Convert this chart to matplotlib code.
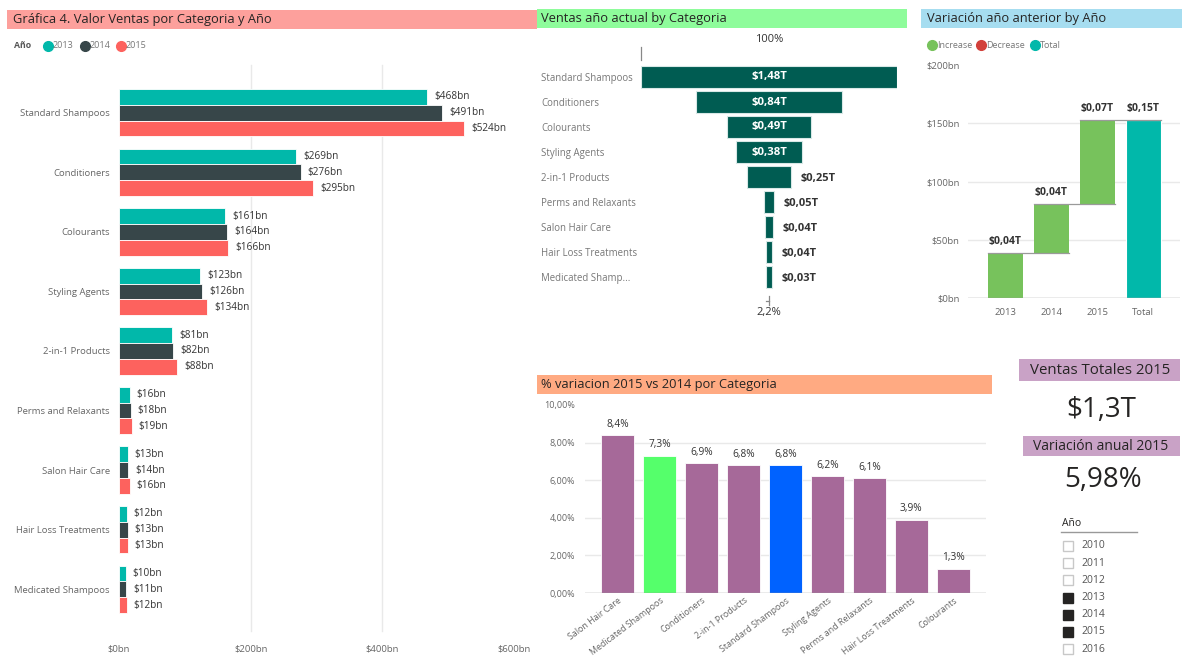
import matplotlib
matplotlib.use('Agg')
import matplotlib.pyplot as plt
from matplotlib.patches import Rectangle
from matplotlib.lines import Line2D
import numpy as np

W, H = 1182, 658
plt.rcParams['font.family'] = ['Open Sans', 'DejaVu Sans']

# ---------------- data ----------------
categories = ['Standard Shampoos', 'Conditioners', 'Colourants', 'Styling Agents',
              '2-in-1 Products', 'Perms and Relaxants', 'Salon Hair Care',
              'Hair Loss Treatments', 'Medicated Shampoos']
years = ['2013', '2014', '2015']
sales_2013 = [468, 269, 161, 123, 81, 16, 13, 12, 10]
sales_2014 = [491, 276, 164, 126, 82, 18, 14, 13, 11]
sales_2015 = [524, 295, 166, 134, 88, 19, 16, 13, 12]
year_colors = ['#01B8AA', '#374649', '#FD625E']

funnel_labels = ['Standard Shampoos', 'Conditioners', 'Colourants', 'Styling Agents',
                 '2-in-1 Products', 'Perms and Relaxants', 'Salon Hair Care',
                 'Hair Loss Treatments', 'Medicated Shamp...']

wf_labels = ['2013', '2014', '2015', 'Total']
wf_changes = [39, 42, 72]
wf_ticks = [0, 50, 100, 150, 200]

pct_categories = ['Salon Hair Care', 'Medicated Shampoos', 'Conditioners', '2-in-1 Products',
                  'Standard Shampoos', 'Styling Agents', 'Perms and Relaxants',
                  'Hair Loss Treatments', 'Colourants']
pct_values = [8.4, 7.3, 6.9, 6.8, 6.8, 6.2, 6.1, 3.9, 1.3]
pct_ticks = [0, 2, 4, 6, 8, 10]

kpi_total_2015 = '$1,3T'
kpi_variation_2015 = 5.98

slicer_years = ['2010', '2011', '2012', '2013', '2014', '2015', '2016']
slicer_selected = ['2013', '2014', '2015']

# ---------------- helpers ----------------
fig = plt.figure(figsize=(W / 100, H / 100), dpi=100)
fig.patch.set_facecolor('white')


def fx(x):
    return x / W


def fy(y):
    return 1 - y / H


def axes_px(x0, y0, x1, y1):
    return fig.add_axes([x0 / W, 1 - y1 / H, (x1 - x0) / W, (y1 - y0) / H])


def title_bar(x0, y0, x1, y1, color, text, tx, size=9.3, ha='left'):
    fig.add_artist(Rectangle((fx(x0), fy(y1)), (x1 - x0) / W, (y1 - y0) / H,
                             transform=fig.transFigure, facecolor=color,
                             edgecolor='none', zorder=0))
    fig.text(fx(tx), fy((y0 + y1) / 2), text, ha=ha, va='center',
             fontsize=size, color='#252423')


def legend_dot(x, y, color, label, size=6.5):
    fig.add_artist(Line2D([fx(x)], [fy(y)], marker='o', markersize=7,
                          color=color, transform=fig.transFigure, linestyle='none'))
    fig.text(fx(x + 5), fy(y), label, ha='left', va='center', fontsize=size,
             color='#777777')


def clean(ax):
    for s in ax.spines.values():
        s.set_visible(False)
    ax.set_facecolor('none')


GRID = '#E9E9E9'
LBL = '#666666'
VAL = '#333333'

# ---------------- Panel 1: clustered bar ----------------
title_bar(7, 10, 537, 29, '#FDA09C', 'Gráfica 4. Valor Ventas por Categoria y Año', 13)
fig.text(fx(14), fy(46), 'Año', ha='left', va='center', fontsize=6.3,
         color='#555555', fontweight='bold')
for xx, yr, col in zip([48, 85, 121], years, year_colors):
    legend_dot(xx, 46, col, yr)

ax1 = axes_px(119, 83, 514, 619)
clean(ax1)
n = len(categories)
ypos = np.arange(n)
bh = 0.265
series = [sales_2013, sales_2014, sales_2015]
for k, (vals, col) in enumerate(zip(series, year_colors)):
    off = (k - 1) * bh
    ax1.barh(ypos + off, vals, height=bh, color=col, edgecolor='white', linewidth=0.6, zorder=3)
    for yy, v in zip(ypos + off, vals):
        ax1.annotate(f'${v}bn', (v, yy), xytext=(5, 0), textcoords='offset points',
                     ha='left', va='center', fontsize=7.2, color=VAL)
ax1.set_xlim(0, 600)
ax1.set_ylim(n - 0.5, -0.5)
ax1.set_yticks(ypos)
ax1.set_yticklabels(categories, fontsize=6.8, color=LBL)
ax1.set_xticks([0, 200, 400, 600])
ax1.set_xticklabels(['$0bn', '$200bn', '$400bn', '$600bn'], fontsize=6.8, color=LBL)
ax1.tick_params(axis='y', length=0, pad=6.5)
ax1.tick_params(axis='x', length=0, pad=18)
for gx in [200, 400]:
    ax1.plot([gx, gx], [n - 0.5 + 0.2, -0.5 - 0.3], color=GRID, lw=1, zorder=1, clip_on=False)

# ---------------- Panel 2: funnel ----------------
title_bar(537, 9, 907, 28, '#8EFC9B', 'Ventas año actual by Categoria', 541)
funnel_vals = [a + b + c for a, b, c in zip(sales_2013, sales_2014, sales_2015)]
fmax = max(funnel_vals)
ax2 = axes_px(641, 64.5, 897, 289.5)
clean(ax2)
fp = np.arange(len(funnel_vals))
ax2.barh(fp, funnel_vals, left=[-v / 2 for v in funnel_vals], height=0.88,
         color='#005C52', edgecolor='#D8E8E6', linewidth=0.8, zorder=3)
for yy, v in zip(fp, funnel_vals):
    lab = f'${v / 1000:.2f}T'.replace('.', ',')
    if v > 0.2 * fmax:
        ax2.text(0, yy, lab, ha='center', va='center', fontsize=8.2, color='white',
                 fontweight='bold')
    else:
        ax2.annotate(lab, (v / 2, yy), xytext=(7, -1), textcoords='offset points',
                     ha='left', va='center', fontsize=8.0, color=VAL, fontweight='bold')
ax2.set_xlim(-fmax / 2, fmax / 2)
ax2.set_ylim(len(fp) - 0.5, -0.5)
ax2.set_yticks(fp)
ax2.set_yticklabels(funnel_labels, fontsize=6.9, color='#777777', ha='left')
ax2.tick_params(axis='y', length=0, pad=72)
ax2.set_xticks([])
ax2.text(0, -1.48, '100%', ha='center', va='center', fontsize=8, color=VAL)
ax2.plot([-fmax / 2, -fmax / 2], [-1.2, -0.68], color='#888888', lw=0.9, clip_on=False)
ax2.plot([0, 0], [8.76, 9.12], color='#888888', lw=0.9, clip_on=False)
ax2.plot([-fmax * 0.012, 0], [8.95, 8.95], color='#888888', lw=0.9, clip_on=False)
last_pct = funnel_vals[-1] / fmax * 100
ax2.text(0, 9.44, f'{last_pct:.1f}%'.replace('.', ','), ha='center', va='center',
         fontsize=8, color=VAL)

# ---------------- Panel 3: waterfall ----------------
title_bar(921, 9, 1182, 28, '#A6DDF0', 'Variación año anterior by Año', 927)
legend_dot(932, 45, '#77C25C', 'Increase')
legend_dot(981, 45, '#D2403A', 'Decrease')
legend_dot(1035, 45, '#01B8AA', 'Total')

ax3 = axes_px(968, 65, 1180, 298)
clean(ax3)
cum = np.concatenate([[0], np.cumsum(wf_changes)])
total = cum[-1]
bw = 0.76
for i, ch in enumerate(wf_changes):
    ax3.bar(i, ch, bottom=cum[i], width=bw, color='#77C25C', zorder=3)
ax3.bar(3, total, width=bw, color='#01B8AA', edgecolor='white', linewidth=0.8, zorder=3)
for i in range(3):
    ax3.plot([i - bw / 2, i + 1 + bw / 2], [cum[i + 1], cum[i + 1]], color='#9A9A9A',
             lw=0.9, zorder=4)
tops = list(cum[1:]) + [total]
vals = list(wf_changes) + [total]
for i, (t, v) in enumerate(zip(tops, vals)):
    ax3.annotate(f'${v / 1000:.2f}T'.replace('.', ','), (i, t), xytext=(0, 4),
                 textcoords='offset points', ha='center', va='bottom', fontsize=7.5,
                 color=VAL, fontweight='bold')
ax3.set_xlim(-0.804, 3.80)
ax3.set_ylim(0, 200)
ax3.set_yticks(wf_ticks)
ax3.set_yticklabels([f'${t}bn' for t in wf_ticks], fontsize=6.8, color=LBL)
ax3.set_xticks(range(4))
ax3.set_xticklabels(wf_labels, fontsize=6.8, color=LBL)
ax3.tick_params(length=0)
ax3.tick_params(axis='y', pad=6)
ax3.tick_params(axis='x', pad=7)
for t in wf_ticks[1:-1]:
    ax3.axhline(t, color=GRID, lw=1, zorder=1)
ax3.axhline(0, color='#9A9A9A', lw=1, zorder=5)

# ---------------- Panel 4: % variation ----------------
title_bar(537, 375, 992, 394, '#FFAA82', '% variacion 2015 vs 2014 por Categoria', 541)
ax4 = axes_px(585, 405, 986, 593)
clean(ax4)
pcolors = []
for c in pct_categories:
    if c == 'Medicated Shampoos':
        pcolors.append('#55FF6B')
    elif c == 'Standard Shampoos':
        pcolors.append('#0062FF')
    else:
        pcolors.append('#A66999')
xp = np.arange(len(pct_values))
ax4.bar(xp, pct_values, width=0.79, color=pcolors, edgecolor='white', linewidth=0.6, zorder=3)
for x, v in zip(xp, pct_values):
    ax4.annotate(f'{v:.1f}%'.replace('.', ','), (x, v), xytext=(0, 4),
                 textcoords='offset points', ha='center', va='bottom', fontsize=7.3,
                 color=VAL)
ax4.set_xlim(-0.78, 8.78)
ax4.set_ylim(0, 10)
ax4.set_yticks(pct_ticks)
ax4.set_yticklabels([f'{t:.2f}%'.replace('.', ',') for t in pct_ticks], fontsize=6.5,
                    color=LBL)
ax4.set_xticks(xp)
ax4.set_xticklabels(pct_categories, fontsize=6.4, color=LBL, rotation=37, ha='right',
                    rotation_mode='anchor')
ax4.tick_params(length=0)
ax4.tick_params(axis='y', pad=7)
ax4.tick_params(axis='x', pad=2)
for t in pct_ticks[1:-1]:
    ax4.axhline(t, color=GRID, lw=1, zorder=1)
ax4.axhline(0, color='#9A9A9A', lw=1, zorder=5)

# ---------------- KPI cards ----------------
title_bar(1019, 359, 1180, 381, '#C9A2C6', 'Ventas Totales 2015', 1100, size=10.8, ha='center')
fig.text(fx(1101), fy(410), kpi_total_2015, ha='center', va='center', fontsize=20,
         color='#252423')
title_bar(1023, 436, 1180, 456, '#C9A2C6', 'Variación anual 2015', 1101, size=10, ha='center')
fig.text(fx(1103), fy(480), f'{kpi_variation_2015:.2f}%'.replace('.', ','), ha='center',
         va='center', fontsize=20, color='#252423')

# ---------------- Slicer ----------------
fig.text(fx(1062), fy(524), 'Año', ha='left', va='center', fontsize=7.5, color='#252423')
fig.add_artist(Line2D([fx(1061), fx(1137)], [fy(532), fy(532)], color='#999999', lw=1,
                      transform=fig.transFigure))
for i, yr in enumerate(slicer_years):
    yy = 546 + i * 17.2
    sel = yr in slicer_selected
    fig.add_artist(Line2D([fx(1068)], [fy(yy)], marker='s', markersize=7,
                          markerfacecolor='#252423' if sel else 'white',
                          markeredgecolor='#252423' if sel else '#C8C8C8',
                          markeredgewidth=1.0, linestyle='none',
                          transform=fig.transFigure))
    fig.text(fx(1081), fy(yy), yr, ha='left', va='center', fontsize=7.5, color='#555555')

fig.savefig('out.png', dpi=100, facecolor='white')
